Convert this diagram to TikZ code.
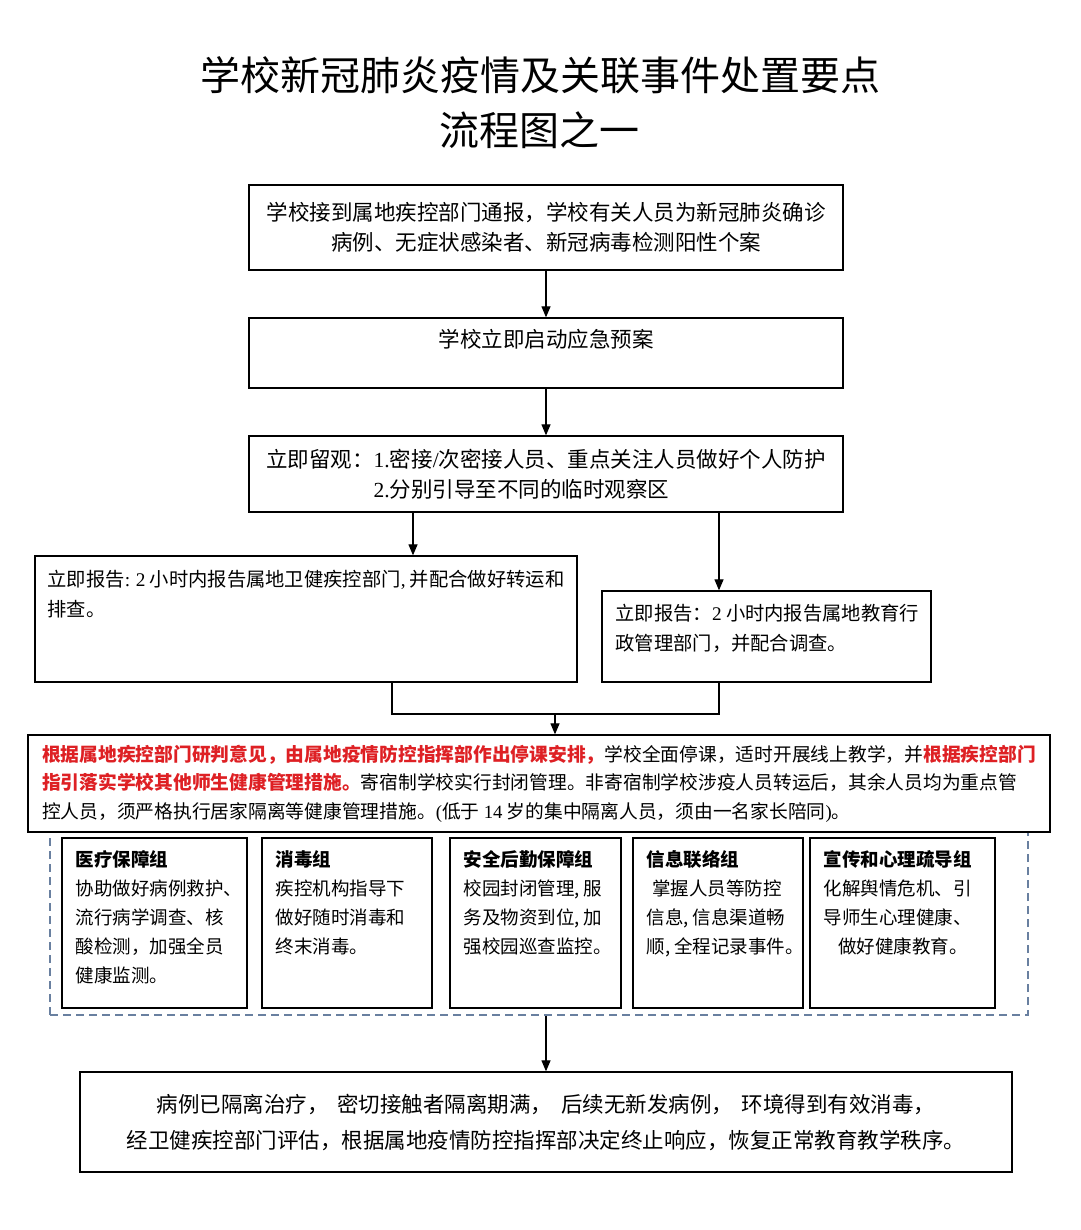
\documentclass[tikz,border=0pt]{standalone}
\usepackage{fontspec}
\setmainfont{Noto Sans CJK SC}
\newfontfamily\numfont{Liberation Serif}
\usetikzlibrary{arrows.meta}

\definecolor{alertred}{RGB}{222,32,36}
\definecolor{frameblue}{RGB}{105,128,160}

\newcommand\txthead{\fontsize{40}{50}\selectfont}
\newcommand\txtbig{\fontsize{21.5}{30}\selectfont}
\newcommand\txtmid{\fontsize{19.3}{29.5}\selectfont}
\newcommand\txtsmall{\fontsize{18.75}{28.5}\selectfont}
\newcommand\txtgroup{\fontsize{18.5}{29}\selectfont}
\newcommand\redbf[1]{\textcolor{alertred}{\bfseries #1}}

\tikzset{
  box/.style={draw, line width=1.3pt, inner sep=0pt},
  txt/.style={inner sep=0pt, align=left},
  link/.style={line width=1.2pt},
  flow/.style={line width=1.2pt, -{Triangle[length=11pt,width=9pt]}},
  teamframe/.style={draw=frameblue, line width=1.2pt, dash pattern=on 8pt off 5pt}
}

\begin{document}
\begin{tikzpicture}[x=1pt,y=-1pt]
  \fill[white] (0,0) rectangle (1080,1230);
  \useasboundingbox (0,0) rectangle (1080,1230);

  % 标题
  \node[font=\txthead] (title) at (540,75) {学校新冠肺炎疫情及关联事件处置要点};
  \node[font=\txthead] (subtitle) at (539,130) {流程图之一};

  % 通报与启动预案
  \node[box, minimum width=594, minimum height=85, font=\txtbig, align=center] (notice) at (546,227.5)
    {学校接到属地疾控部门通报，学校有关人员为新冠肺炎确诊\\病例、无症状感染者、新冠病毒检测阳性个案};
  \node[box, minimum width=594, minimum height=70] (plan) at (546,353) {};
  \node[txt, font=\txtbig, anchor=north] (plan-text) at ([yshift=-12]plan.north) {学校立即启动应急预案};
  \node[box, minimum width=594, minimum height=76, font=\txtbig, align=left] (observe) at (546,474)
    {立即留观：{\numfont 1.}密接{\numfont /}次密接人员、重点关注人员做好个人防护\\\hspace*{5em}{\numfont 2.}分别引导至不同的临时观察区};

  \draw[flow] (notice) -- (plan);
  \draw[flow] (plan) -- (observe);

  % 两路报告
  \node[box, minimum width=542, minimum height=126] (report-health) at (306,619) {};
  \node[txt, font=\txtmid, anchor=north west] (report-health-text) at ([xshift=13,yshift=-15]report-health.north west)
    {立即报告{\numfont :} {\numfont 2} 小时内报告属地卫健疾控部门{\numfont ,} 并配合做好转运和\\排查。};
  \node[box, minimum width=329, minimum height=91] (report-edu) at (766.5,636.5) {};
  \node[txt, font=\txtmid, anchor=north west] (report-edu-text) at ([xshift=14,yshift=-14]report-edu.north west)
    {立即报告：{\numfont 2} 小时内报告属地教育行\\政管理部门，并配合调查。};

  \draw[flow] ([xshift=-133]observe.south) -- ([xshift=-133]observe.south |- report-health.north);
  \draw[flow] ([xshift=173]observe.south) -- ([xshift=173]observe.south |- report-edu.north);

  % 工作组虚线框（先画，压在停课框下面）
  \node[teamframe, minimum width=978, minimum height=183] (teams) at (539,923.5) {};

  % 停课与管理措施
  \node[box, minimum width=1022, minimum height=97, font=\txtsmall, align=left] (measures) at (539,783.5)
    {\redbf{根据属地疾控部门研判意见，由属地疫情防控指挥部作出停课安排，}学校全面停课，适时开展线上教学，并\redbf{根据疾控部门}\\
     \redbf{指引落实学校其他师生健康管理措施。}寄宿制学校实行封闭管理。非寄宿制学校涉疫人员转运后，其余人员均为重点管\\
     控人员，须严格执行居家隔离等健康管理措施。{\numfont (}低于 {\numfont 14} 岁的集中隔离人员，须由一名家长陪同{\numfont )}。};

  \coordinate (merge) at (555,714);
  \draw[link] ([xshift=86]report-health.south) |- (merge) -| ([xshift=-47.5]report-edu.south);
  \draw[flow] (merge) -- (merge |- measures.north);

  % 五个工作组
  \foreach \gname/\gx/\gw/\gtitle/\gbody in {
    medical/154.5/185/医疗保障组/{协助做好病例救护、\\流行病学调查、核\\酸检测，加强全员\\健康监测。},
    disinfect/347/170/消毒组/{疾控机构指导下\\做好随时消毒和\\终末消毒。},
    logistics/535.5/171/安全后勤保障组/{校园封闭管理, 服\\务及物资到位, 加\\强校园巡查监控。},
    info/718/170/信息联络组/{\hspace*{0.3em}掌握人员等防控\\信息, 信息渠道畅\\顺, 全程记录事件。},
    publicity/902.5/185/宣传和心理疏导组/{化解舆情危机、引\\导师生心理健康、\\\hspace*{0.8em}做好健康教育。}%
  }{
    \node[box, minimum width=\gw, minimum height=170] (\gname) at (\gx,923) {};
    \node[txt, font=\txtgroup, anchor=north west] (\gname-text) at ([xshift=14,yshift=-13]\gname.north west)
      {\textbf{\gtitle}\\\gbody};
  }

  % 终止响应
  \node[box, minimum width=932, minimum height=100, font=\fontsize{21.5}{36}\selectfont, align=center] (resume) at (546,1122)
    {病例已隔离治疗，\hspace{0.4em}密切接触者隔离期满，\hspace{0.4em}后续无新发病例，\hspace{0.4em}环境得到有效消毒，\\经卫健疾控部门评估，根据属地疫情防控指挥部决定终止响应，恢复正常教育教学秩序。};
  \draw[flow] (teams.south -| resume.north) -- (resume.north);
\end{tikzpicture}
\end{document}
